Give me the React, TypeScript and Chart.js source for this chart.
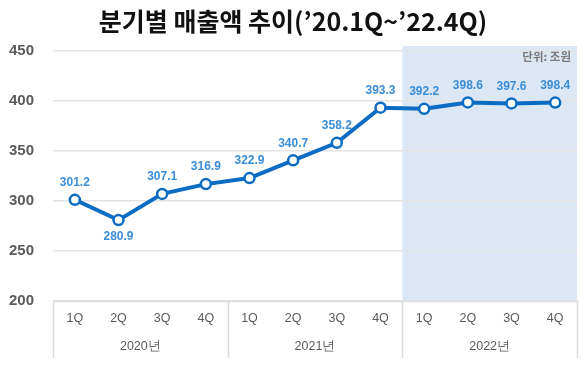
import React, { useEffect, useRef } from "react";
import { Chart, registerables } from "chart.js";

Chart.register(...registerables);

const quarters = ["1Q", "2Q", "3Q", "4Q", "1Q", "2Q", "3Q", "4Q", "1Q", "2Q", "3Q", "4Q"];
const years = ["2020년", "2021년", "2022년"];
const sales = [301.2, 280.9, 307.1, 316.9, 322.9, 340.7, 358.2, 393.3, 392.2, 398.6, 397.6, 398.4];
const labelBelow = [false, true, false, false, false, false, false, false, false, false, false, false];
const yTicks = [200, 250, 300, 350, 400, 450];
const titleText = "분기별 매출액 추이(’20.1Q~’22.4Q)";
const unitText = "단위: 조원";

const LINE = "#0b6cc4";
const LABEL = "#3a8ed8";
const TICK = "#5a5a5a";

export default function App() {
  const ref = useRef<HTMLCanvasElement | null>(null);

  useEffect(() => {
    if (!ref.current) return;
    const decor = {
      id: "decor",
      beforeDraw(chart: any) {
        const ctx = chart.ctx;
        const x = chart.scales.x;
        const ca = chart.chartArea;
        ctx.save();
        const sx = x.getPixelForValue(7.5);
        ctx.fillStyle = "#dce7f5";
        ctx.fillRect(sx, 46, ca.right - sx, ca.bottom - 46);
        ctx.fillStyle = "#111";
        ctx.font = "bold 25px 'Noto Sans CJK KR'";
        ctx.textAlign = "center";
        ctx.textBaseline = "middle";
        ctx.fillText(titleText, 293, 21);
        ctx.restore();
      },
      afterDraw(chart: any) {
        const ctx = chart.ctx;
        const x = chart.scales.x;
        const y = chart.scales.y;
        const ca = chart.chartArea;
        ctx.save();
        ctx.fillStyle = "#7a7a7a";
        ctx.font = "bold 11.5px 'Noto Sans CJK KR'";
        ctx.textAlign = "right";
        ctx.textBaseline = "middle";
        ctx.fillText(unitText, 571, 57);
        ctx.strokeStyle = "#dcdcdc";
        ctx.lineWidth = 1.5;
        ctx.beginPath();
        ctx.moveTo(ca.left, ca.bottom + 0.5);
        ctx.lineTo(ca.right, ca.bottom + 0.5);
        ctx.stroke();
        [-0.5, 3.5, 7.5, 11.5].forEach((v) => {
          const px = Math.round(x.getPixelForValue(v)) + 0.5;
          ctx.beginPath();
          ctx.moveTo(px, ca.bottom);
          ctx.lineTo(px, 358);
          ctx.stroke();
        });
        ctx.fillStyle = TICK;
        ctx.font = "12.5px 'Liberation Sans'";
        ctx.textAlign = "center";
        ctx.textBaseline = "middle";
        years.forEach((yr, i) => {
          const cx = (x.getPixelForValue(i * 4 - 0.5) + x.getPixelForValue(i * 4 + 3.5)) / 2;
          ctx.fillText(yr, cx, 347);
        });
        ctx.fillStyle = LABEL;
        ctx.font = "bold 12px 'Liberation Sans'";
        sales.forEach((v, i) => {
          const px = x.getPixelForValue(i);
          const py = y.getPixelForValue(v);
          ctx.fillText(v.toFixed(1), px, labelBelow[i] ? py + 17 : py - 17);
        });
        ctx.restore();
      },
    };

    const chart = new Chart(ref.current, {
      type: "line",
      data: {
        labels: quarters,
        datasets: [
          {
            data: sales,
            borderColor: LINE,
            borderWidth: 4,
            pointRadius: 5,
            pointBorderWidth: 2.5,
            pointBackgroundColor: "#ffffff",
            pointBorderColor: LINE,
            tension: 0,
          },
        ],
      },
      options: {
        responsive: false,
        animation: false,
        layout: { autoPadding: false, padding: { top: 51, right: 5, left: 0, bottom: 0 } },
        plugins: { legend: { display: false }, tooltip: { enabled: false }, title: { display: false } },
        scales: {
          x: {
            offset: true,
            grid: { display: false, drawTicks: false },
            border: { display: false },
            ticks: { color: TICK, font: { size: 12.5, family: "'Liberation Sans'" }, padding: 10 },
            afterFit(s: any) {
              s.height = 73;
              s.paddingLeft = 0;
              s.paddingRight = 0;
            },
          },
          y: {
            min: 200,
            max: 450,
            afterBuildTicks(s: any) {
              s.ticks = yTicks.map((v) => ({ value: v }));
            },
            grid: { color: "#e3e3e3", lineWidth: 1.5, drawTicks: false },
            border: { display: false },
            ticks: {
              color: TICK,
              font: { size: 15, weight: "bold", family: "'Liberation Sans'" },
              padding: 19,
            },
            afterFit(s: any) {
              s.width = 53;
              s.paddingTop = 0;
              s.paddingBottom = 0;
            },
          },
        },
      },
      plugins: [decor],
    } as any);
    return () => chart.destroy();
  }, []);

  return (
    <div style={{ position: "absolute", left: 0, top: 0, width: 582, height: 374, background: "#fff" }}>
      <canvas ref={ref} width={582} height={374} style={{ width: 582, height: 374 }} />
    </div>
  );
}
